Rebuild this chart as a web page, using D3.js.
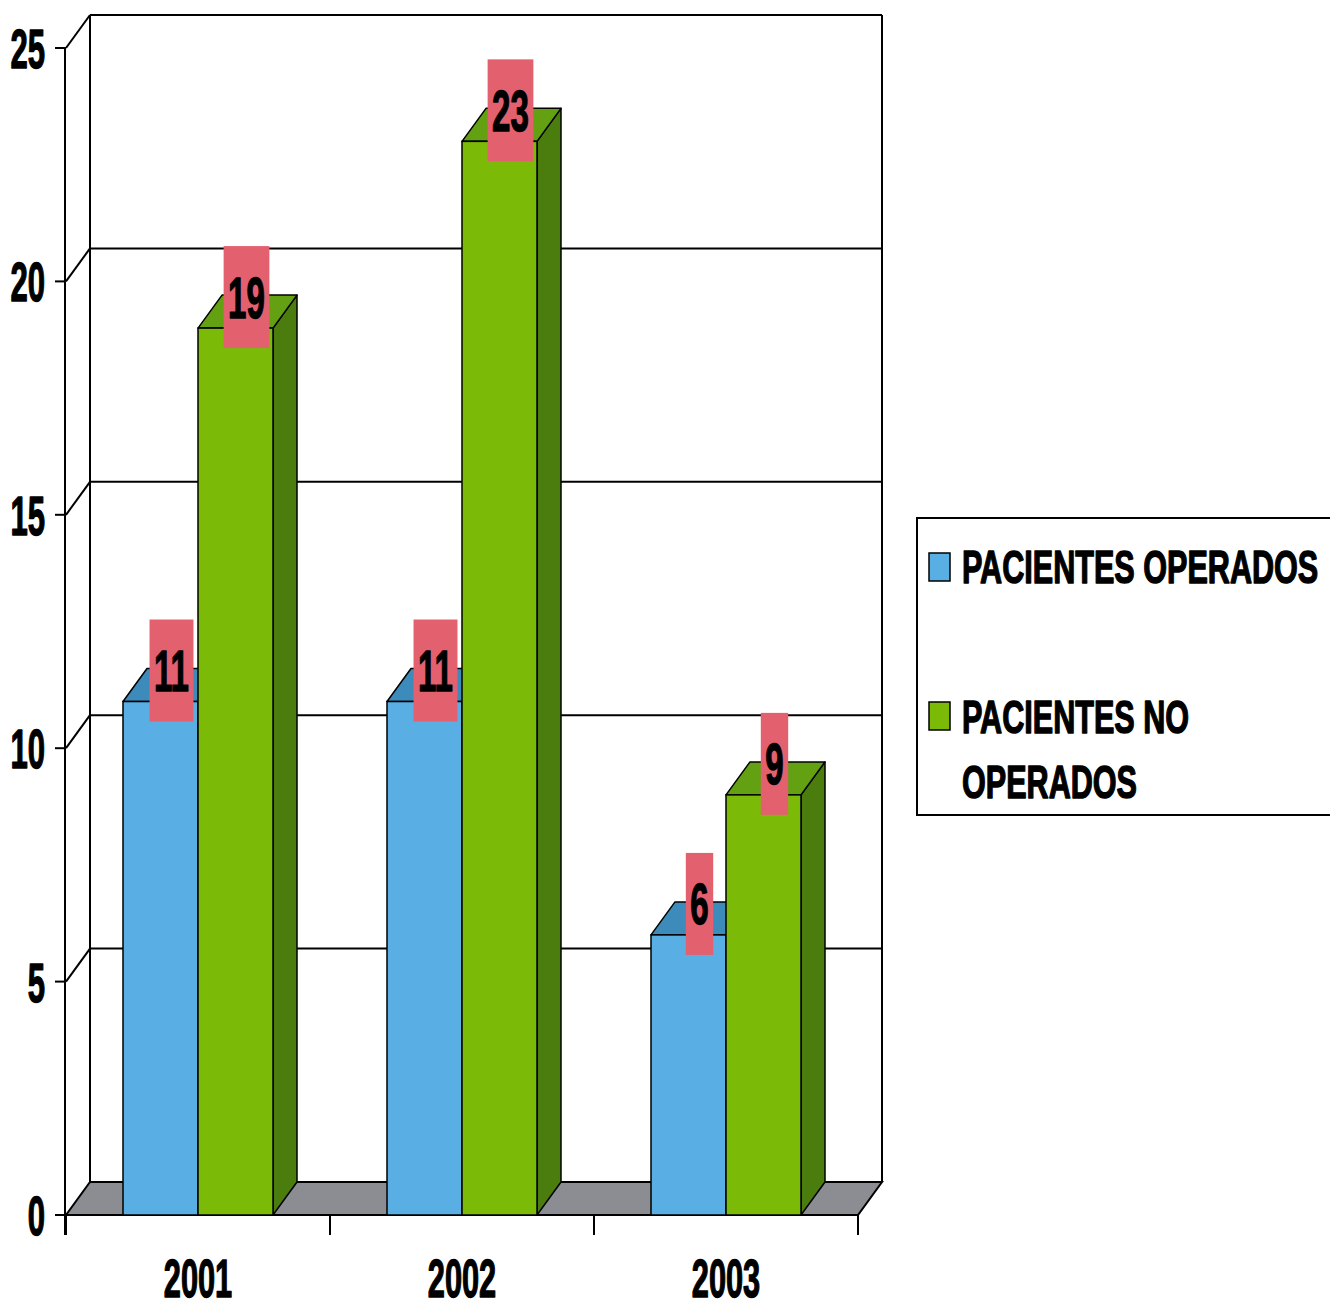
<!DOCTYPE html>
<html><head><meta charset="utf-8">
<script src="https://cdn.jsdelivr.net/npm/d3@7"></script>
<style>html,body{margin:0;padding:0;background:#fff;overflow:hidden}
text{stroke:#000;stroke-width:1.4px;stroke-linejoin:round}</style>
</head><body>
<svg id="c" width="1330" height="1309"></svg>
<script>
const years = ["2001","2002","2003"];
const seriesNames = ["PACIENTES OPERADOS","PACIENTES NO OPERADOS"];
const operados = [11,11,6];
const noOperados = [19,23,9];
const yTicks = [0,5,10,15,20,25];
const legendLines = [["PACIENTES OPERADOS"],["PACIENTES NO","OPERADOS"]];

const svg = d3.select("#c");
const FONT = "'Liberation Sans', Arial, sans-serif";
const DX = 24, DY = -33;
const x0 = 66, x1 = 858, yBottom = 1215, yTop = 48;

const y = d3.scaleLinear().domain([0,25]).range([yBottom, yTop]);
const xBand = d3.scaleBand().domain(years).range([x0, x1]);
const xSeries = d3.scaleBand().domain(seriesNames).range([0, xBand.bandwidth()]).paddingInner(0).paddingOuter(0.76);

const colors = {
  "PACIENTES OPERADOS": {front:"#59aee4", top:"#3d8bbb", side:"#2f6f98"},
  "PACIENTES NO OPERADOS": {front:"#7cba08", top:"#63a012", side:"#4b7d0e"}
};

const g = svg.append("g");
// floor
g.append("path")
  .attr("d", `M${x0},${y(0)} L${x1},${y(0)} L${x1+DX},${y(0)+DY} L${x0+DX},${y(0)+DY} Z`)
  .attr("fill","#8c8d92").attr("stroke","#000").attr("stroke-width",2);
// back wall gridlines & side wall diagonals
yTicks.filter(v=>v>0).forEach(v=>{
  g.append("line").attr("x1",x0+DX).attr("x2",x1+DX).attr("y1",y(v)+DY).attr("y2",y(v)+DY)
    .attr("stroke","#000").attr("stroke-width",2);
  g.append("line").attr("x1",x0).attr("x2",x0+DX).attr("y1",y(v)).attr("y2",y(v)+DY)
    .attr("stroke","#000").attr("stroke-width",2);
});
g.append("line").attr("x1",x0+DX).attr("x2",x0+DX).attr("y1",y(25)+DY).attr("y2",y(0)+DY).attr("stroke","#000").attr("stroke-width",2);
g.append("line").attr("x1",x1+DX).attr("x2",x1+DX).attr("y1",y(25)+DY).attr("y2",y(0)+DY).attr("stroke","#000").attr("stroke-width",2);
// front y axis
g.append("line").attr("x1",x0-1).attr("x2",x0-1).attr("y1",y(25)).attr("y2",y(0)+20).attr("stroke","#000").attr("stroke-width",2);
yTicks.forEach(v=>{
  g.append("line").attr("x1",x0-11).attr("x2",x0).attr("y1",y(v)).attr("y2",y(v)).attr("stroke","#000").attr("stroke-width",2);
  g.append("text").attr("transform",`translate(45,${y(v)+20}) scale(0.555,1)`)
    .attr("text-anchor","end").attr("font-family",FONT).attr("font-weight","bold").attr("font-size",56)
    .text(v);
});
// x axis
const xTickPos = [x0].concat(years.map(yr=>xBand(yr)+xBand.bandwidth()));
xTickPos.forEach(xp=>{
  g.append("line").attr("x1",xp).attr("x2",xp).attr("y1",y(0)).attr("y2",y(0)+20).attr("stroke","#000").attr("stroke-width",2);
});
g.append("line").attr("x1",x0).attr("x2",x1).attr("y1",y(0)).attr("y2",y(0)).attr("stroke","#000").attr("stroke-width",2);
years.forEach(yr=>{
  g.append("text").attr("transform",`translate(${xBand(yr)+xBand.bandwidth()/2},1297) scale(0.57,1)`)
    .attr("text-anchor","middle").attr("font-family",FONT).attr("font-weight","bold").attr("font-size",54)
    .text(yr);
});

// bars
const data = [];
years.forEach((yr,i)=>{
  data.push({year:yr, series:seriesNames[0], value:operados[i]});
  data.push({year:yr, series:seriesNames[1], value:noOperados[i]});
});
const bars = svg.append("g");
data.forEach(d=>{
  const bx = xBand(d.year)+xSeries(d.series);
  const bw = xSeries.bandwidth();
  const yt = y(d.value), yb = y(0);
  const c = colors[d.series];
  bars.append("path").attr("d",`M${bx+bw},${yb} L${bx+bw+DX},${yb+DY} L${bx+bw+DX},${yt+DY} L${bx+bw},${yt} Z`)
    .attr("fill",c.side).attr("stroke","#000").attr("stroke-width",1.5).attr("stroke-linejoin","round");
  bars.append("path").attr("d",`M${bx},${yt} L${bx+bw},${yt} L${bx+bw+DX},${yt+DY} L${bx+DX},${yt+DY} Z`)
    .attr("fill",c.top).attr("stroke","#000").attr("stroke-width",1.5).attr("stroke-linejoin","round");
  bars.append("rect").attr("x",bx).attr("y",yt).attr("width",bw).attr("height",yb-yt)
    .attr("fill",c.front).attr("stroke","#000").attr("stroke-width",1.5);
});
// value labels
const labels = svg.append("g");
data.forEach(d=>{
  const bx = xBand(d.year)+xSeries(d.series);
  const cx = bx + xSeries.bandwidth()/2 + 11;
  const cy = y(d.value) - 31;
  const lg = labels.append("g");
  const rect = lg.append("rect").attr("fill","#e3616f");
  const t = lg.append("text").attr("transform",`translate(${cx},${cy+20.5}) scale(0.57,1)`)
    .attr("text-anchor","middle").attr("font-family",FONT).attr("font-weight","bold").attr("font-size",58)
    .text(d.value);
  const w = t.node().getComputedTextLength()*0.57 + 9;
  rect.attr("x",cx-w/2).attr("y",cy-51).attr("width",w).attr("height",102);
});

// legend
const leg = svg.append("g");
leg.append("rect").attr("x",917).attr("y",518).attr("width",430).attr("height",297)
  .attr("fill","#fff").attr("stroke","#000").attr("stroke-width",2);
const legY = [553, 702];
const lineBase = [[583],[733,798]];
seriesNames.forEach((s,i)=>{
  leg.append("rect").attr("x",929).attr("y",legY[i]).attr("width",21).attr("height",28)
    .attr("fill",colors[s].front).attr("stroke","#000").attr("stroke-width",1.5);
  legendLines[i].forEach((ln,j)=>{
    leg.append("text").attr("transform",`translate(962,${lineBase[i][j]}) scale(0.665,1)`)
      .attr("font-family",FONT).attr("font-weight","bold").attr("font-size",46).text(ln);
  });
});
</script>
</body></html>
